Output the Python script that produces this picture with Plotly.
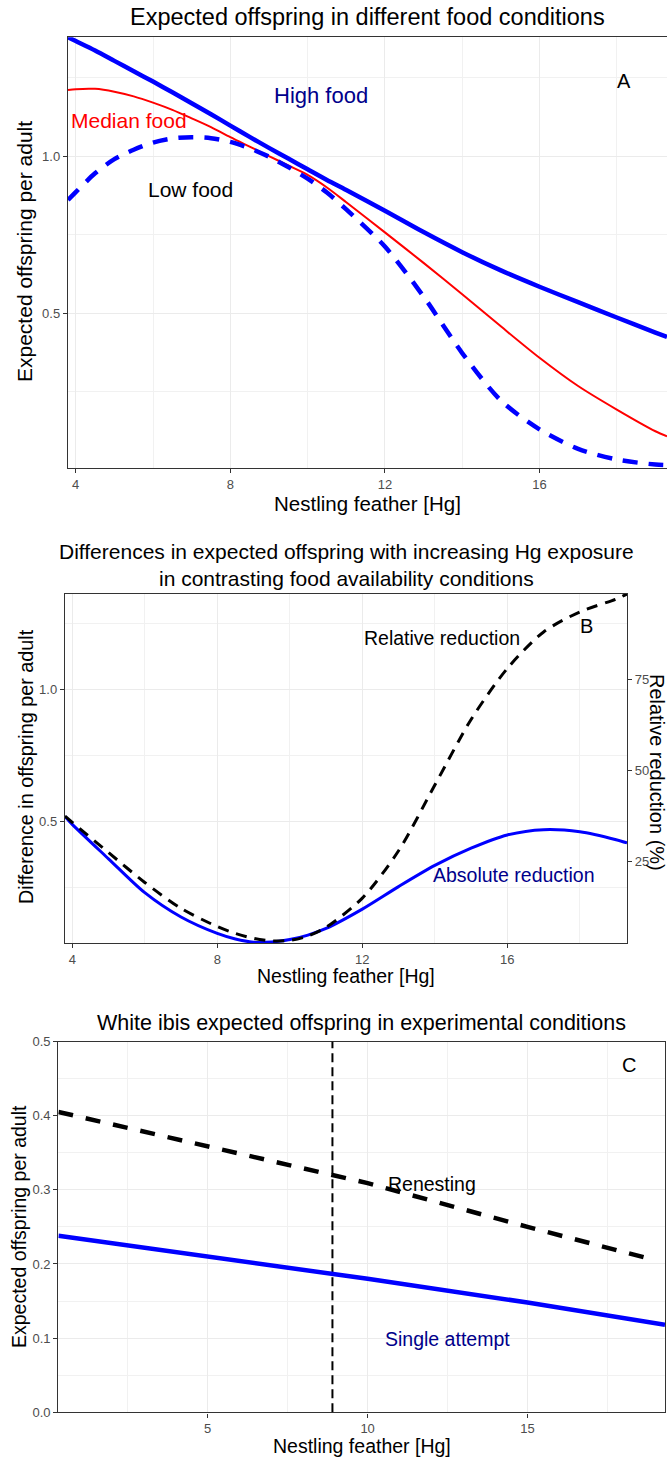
import plotly.graph_objects as go

FONT = "Liberation Sans"
W, H = 667, 1457

# ---------------- Panel A data ----------------
hg_a = [3.8, 4, 4.5, 5, 5.5, 6, 6.5, 7, 7.5, 8, 8.5, 9, 9.5, 10, 10.5, 11,
        12, 13, 14, 15, 16, 17, 18, 19, 19.3]
high_food = [1.378, 1.366, 1.336, 1.303, 1.27, 1.237, 1.203, 1.168, 1.133, 1.097,
             1.061, 1.026, 0.992, 0.958, 0.924, 0.892,
             0.826, 0.758, 0.694, 0.636, 0.584, 0.535, 0.486, 0.438, 0.424]
median_food = [1.21, 1.213, 1.214, 1.205, 1.19, 1.17, 1.147, 1.12, 1.092, 1.06,
               1.03, 1.0, 0.97, 0.94, 0.9, 0.853,
               0.757, 0.66, 0.56, 0.458, 0.358, 0.268, 0.193, 0.124, 0.108]
low_food = [0.86, 0.885, 0.945, 0.99, 1.02, 1.043, 1.056, 1.06, 1.057, 1.045,
            1.025, 0.998, 0.965, 0.928, 0.884, 0.83,
            0.712, 0.553, 0.373, 0.222, 0.13, 0.068, 0.034, 0.018, 0.016]

# ---------------- Panel B data ----------------
hg_b = [3.8, 4, 5, 6, 7, 8, 8.5, 9, 9.5, 10, 10.5, 11, 12, 13, 14, 15, 16, 17,
        18, 19, 19.3]
abs_reduction = [0.52, 0.49, 0.36, 0.232, 0.14, 0.078, 0.057, 0.045, 0.046, 0.055,
                 0.072, 0.097, 0.17, 0.255, 0.335, 0.40, 0.45, 0.47, 0.462,
                 0.432, 0.42]
rel_reduction_pct = [37.5, 35.8, 27.5, 19.3, 12.2, 7.2, 5.3, 4.0, 3.3, 3.4,
                     4.6, 7.0, 15.0, 28.0, 46.0, 64.0, 78.0, 88.0, 93.5,
                     97.0, 98.4]

# ---------------- Panel C data ----------------
hg_c = [0.33, 5, 10, 15, 19.0]
renesting = [0.405, 0.358, 0.309, 0.25, 0.205]
hg_c_single = [0.33, 5, 10, 15, 19.3]
single_attempt = [0.238, 0.21, 0.18, 0.148, 0.118]
threshold_hg = 8.9

# tick labels
ticks_ab_x = [4, 8, 12, 16]
ticks_c_x = [5, 10, 15]

BLUE = "#0000FF"
RED = "#FF0000"
DARKBLUE = "#00008B"
GRID = "#EBEBEB"
MINOR = "#F1F1F1"
BORDER = "#333333"
TICKTXT = "#4D4D4D"

fig = go.Figure()

# Panel A
fig.add_trace(go.Scatter(x=hg_a, y=high_food, mode="lines", name="High food",
                         line=dict(color=BLUE, width=4.5, shape="spline", smoothing=0.8),
                         xaxis="x", yaxis="y"))
fig.add_trace(go.Scatter(x=hg_a, y=median_food, mode="lines", name="Median food",
                         line=dict(color=RED, width=2, shape="spline", smoothing=0.8),
                         xaxis="x", yaxis="y"))
fig.add_trace(go.Scatter(x=hg_a, y=low_food, mode="lines", name="Low food",
                         line=dict(color=BLUE, width=4.5, dash="15px,11px",
                                   shape="spline", smoothing=0.8),
                         xaxis="x", yaxis="y"))

# Panel B
fig.add_trace(go.Scatter(x=hg_b, y=abs_reduction, mode="lines", name="Absolute reduction",
                         line=dict(color=BLUE, width=3, shape="spline", smoothing=0.8),
                         xaxis="x2", yaxis="y2"))
fig.add_trace(go.Scatter(x=hg_b, y=rel_reduction_pct, mode="lines", name="Relative reduction",
                         line=dict(color="black", width=3, dash="11px,8px",
                                   shape="spline", smoothing=0.8),
                         xaxis="x2", yaxis="y3"))

# Panel C
fig.add_trace(go.Scatter(x=[threshold_hg, threshold_hg], y=[0, 0.5], mode="lines",
                         line=dict(color="black", width=2, dash="9px,5px"),
                         xaxis="x3", yaxis="y4", name="threshold"))
fig.add_trace(go.Scatter(x=hg_c, y=renesting, mode="lines", name="Renesting",
                         line=dict(color="black", width=4.5, dash="15px,13px"),
                         xaxis="x3", yaxis="y4"))
fig.add_trace(go.Scatter(x=hg_c_single, y=single_attempt, mode="lines", name="Single attempt",
                         line=dict(color=BLUE, width=4.5),
                         xaxis="x3", yaxis="y4"))


def px_x(p):
    return p / W


def px_y(p):
    return 1 - p / H


common = dict(showgrid=True, gridcolor=GRID, gridwidth=1, zeroline=False,
              showline=True, linecolor=BORDER, linewidth=1.4,
              ticks="outside", ticklen=4, tickwidth=1, tickcolor=BORDER,
              tickfont=dict(family=FONT, size=13, color=TICKTXT),
              automargin=False, layer="below traces")

fig.update_layout(
    width=W, height=H, autosize=False,
    margin=dict(l=0, r=0, t=0, b=0, pad=0),
    template="none",
    paper_bgcolor="white", plot_bgcolor="white",
    showlegend=False,
    font=dict(family=FONT, color="black"),
    xaxis=dict(common, domain=[px_x(68), 1.0], range=[3.8, 19.3],
               tickvals=ticks_ab_x, mirror=True,
               minor=dict(dtick=2, tick0=0, showgrid=True, gridcolor=MINOR), anchor="y"),
    yaxis=dict(common, domain=[px_y(467.7), px_y(37.3)], range=[0.008, 1.378],
               dtick=0.5, tick0=0, tickformat=".1f", mirror=False,
               minor=dict(dtick=0.25, tick0=0, showgrid=True, gridcolor=MINOR), anchor="x"),
    xaxis2=dict(common, domain=[px_x(65), px_x(627)], range=[3.8, 19.3],
                tickvals=ticks_ab_x, mirror=True,
                minor=dict(dtick=2, tick0=0, showgrid=True, gridcolor=MINOR), anchor="y2"),
    yaxis2=dict(common, domain=[px_y(943), px_y(594)], range=[0.042, 1.36],
                dtick=0.5, tick0=0, tickformat=".1f", mirror=False,
                minor=dict(dtick=0.25, tick0=0, showgrid=True, gridcolor=MINOR), anchor="x2"),
    yaxis3=dict(common, range=[2.7, 98.4], overlaying="y2", side="right", anchor="x2",
                showgrid=False, tickvals=[25, 50, 75]),
    xaxis3=dict(common, domain=[px_x(58.4), px_x(665)], range=[0.33, 19.3],
                tickvals=ticks_c_x, mirror=True,
                minor=dict(dtick=2.5, tick0=0, showgrid=True, gridcolor=MINOR), anchor="y4"),
    yaxis4=dict(common, domain=[px_y(1412.3), px_y(1041.5)], range=[0, 0.5],
                dtick=0.1, tick0=0, tickformat=".1f", mirror=True,
                minor=dict(dtick=0.05, tick0=0, showgrid=True, gridcolor=MINOR), anchor="x3"),
)

ann = []


def text_paper(txt, x, y, size, color="black", angle=0):
    ann.append(dict(text=txt, x=px_x(x), y=px_y(y), xref="paper", yref="paper",
                    xanchor="center", yanchor="middle", showarrow=False,
                    textangle=angle, font=dict(family=FONT, size=size, color=color)))


def text_data(txt, x, y, xref, yref, size, color="black"):
    ann.append(dict(text=txt, x=x, y=y, xref=xref, yref=yref,
                    xanchor="center", yanchor="middle", showarrow=False,
                    font=dict(family=FONT, size=size, color=color)))


# titles
text_paper("Expected offspring in different food conditions", 367.5, 17, 23.5)
text_paper("Differences in expected offspring with increasing Hg exposure<br>"
           "in contrasting food availability conditions", 346, 564.5, 21)
text_paper("White ibis expected offspring in experimental conditions", 361.7, 1023, 21.5)

# axis titles
text_paper("Nestling feather [Hg]", 367.5, 504, 20.5)
text_paper("Expected offspring per adult", 25, 252, 21, angle=-90)
text_paper("Nestling feather [Hg]", 346, 976, 19.5)
text_paper("Difference in offspring per adult", 26, 767, 19.8, angle=-90)
text_paper("Relative reduction (%)", 657, 772, 20, angle=90)
text_paper("Nestling feather [Hg]", 361.7, 1446, 19.5)
text_paper("Expected offspring per adult", 19, 1227, 19.5, angle=-90)

# in-panel labels
text_data("High food", 10.35, 1.1925, "x", "y", 22, DARKBLUE)
text_data("Median food", 5.39, 1.112, "x", "y", 21, RED)
text_data("Low food", 6.97, 0.892, "x", "y", 21, "black")
text_data("A", 18.2, 1.239, "x", "y", 20, "black")

text_data("Relative reduction", 14.2, 1.194, "x2", "y2", 19.5, "black")
text_data("Absolute reduction", 16.19, 0.299, "x2", "y2", 19.5, DARKBLUE)
text_data("B", 18.17, 1.239, "x2", "y2", 20, "black")

text_data("Renesting", 12.0, 0.3077, "x3", "y4", 19.5, "black")
text_data("Single attempt", 12.5, 0.0984, "x3", "y4", 19.5, DARKBLUE)
text_data("C", 18.17, 0.468, "x3", "y4", 20, "black")

fig.update_layout(annotations=ann)

fig.write_html("out.html",
               config={"displayModeBar": False},
               post_script="document.body.style.margin='0px';"
                           "document.body.style.overflow='hidden';")
